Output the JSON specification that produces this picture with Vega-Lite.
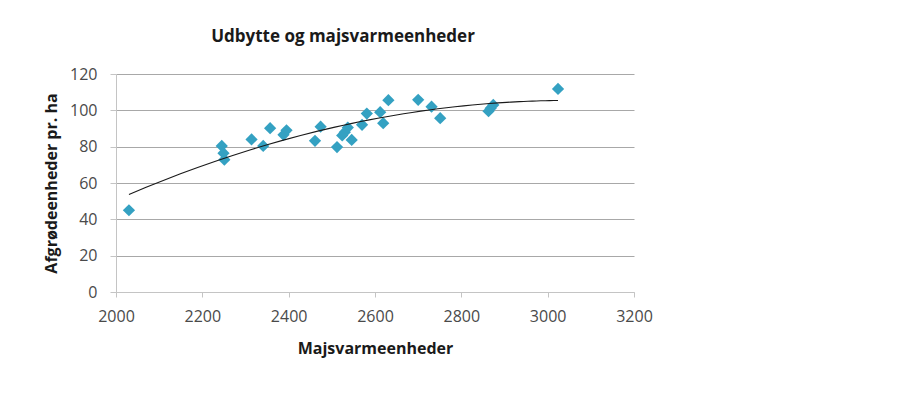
{
  "$schema": "https://vega.github.io/schema/vega-lite/v6.json",
  "width": 518,
  "height": 218,
  "autosize": {"type": "none"},
  "padding": {"left": 116, "top": 74, "right": 288, "bottom": 120},
  "background": "white",
  "title": {
    "text": "Udbytte og majsvarmeenheder",
    "anchor": "middle",
    "frame": "group",
    "dx": -32,
    "dy": 23,
    "baseline": "alphabetic",
    "offset": 30,
    "font": "Open Sans",
    "fontSize": 17,
    "fontWeight": "bold",
    "color": "#1a1a1a"
  },
  "config": {
    "view": {"stroke": null},
    "axis": {
      "labelFont": "Open Sans",
      "labelFontSize": 16,
      "labelColor": "#4a4a4a",
      "labelFlush": false,
      "titleFont": "Open Sans",
      "titleFontSize": 16,
      "titleFontWeight": "bold",
      "titleColor": "#1a1a1a",
      "domainColor": "#c4c4c4",
      "tickColor": "#c4c4c4"
    }
  },
  "data": {
    "values": [
      {"majsvarmeenheder": 2030, "afgroedeenheder": 45},
      {"majsvarmeenheder": 2245, "afgroedeenheder": 80.4},
      {"majsvarmeenheder": 2249, "afgroedeenheder": 76.4},
      {"majsvarmeenheder": 2251, "afgroedeenheder": 72.8},
      {"majsvarmeenheder": 2314, "afgroedeenheder": 84},
      {"majsvarmeenheder": 2341, "afgroedeenheder": 80.4},
      {"majsvarmeenheder": 2357, "afgroedeenheder": 90.2},
      {"majsvarmeenheder": 2388, "afgroedeenheder": 86.5},
      {"majsvarmeenheder": 2395, "afgroedeenheder": 89},
      {"majsvarmeenheder": 2461, "afgroedeenheder": 83.2},
      {"majsvarmeenheder": 2474, "afgroedeenheder": 91},
      {"majsvarmeenheder": 2512, "afgroedeenheder": 79.8},
      {"majsvarmeenheder": 2524, "afgroedeenheder": 86.2},
      {"majsvarmeenheder": 2530, "afgroedeenheder": 88},
      {"majsvarmeenheder": 2537, "afgroedeenheder": 90.5},
      {"majsvarmeenheder": 2546, "afgroedeenheder": 83.7},
      {"majsvarmeenheder": 2570, "afgroedeenheder": 92},
      {"majsvarmeenheder": 2581, "afgroedeenheder": 98.2},
      {"majsvarmeenheder": 2612, "afgroedeenheder": 99},
      {"majsvarmeenheder": 2619, "afgroedeenheder": 92.9},
      {"majsvarmeenheder": 2631, "afgroedeenheder": 105.6},
      {"majsvarmeenheder": 2700, "afgroedeenheder": 105.8},
      {"majsvarmeenheder": 2731, "afgroedeenheder": 102},
      {"majsvarmeenheder": 2751, "afgroedeenheder": 95.7},
      {"majsvarmeenheder": 2863, "afgroedeenheder": 99.5},
      {"majsvarmeenheder": 2868, "afgroedeenheder": 101.2},
      {"majsvarmeenheder": 2874, "afgroedeenheder": 103},
      {"majsvarmeenheder": 3024, "afgroedeenheder": 111.8}
    ]
  },
  "encoding": {
    "x": {
      "field": "majsvarmeenheder",
      "type": "quantitative",
      "scale": {"domain": [2000, 3200], "nice": false, "zero": false},
      "axis": {
        "title": "Majsvarmeenheder",
        "values": [2000, 2200, 2400, 2600, 2800, 3000, 3200],
        "format": "d",
        "grid": false,
        "tickSize": 5,
        "labelPadding": 11,
        "titleY": 61,
        "titleBaseline": "alphabetic",
        "titleAlign": "center"
      }
    },
    "y": {
      "field": "afgroedeenheder",
      "type": "quantitative",
      "scale": {"domain": [0, 120], "nice": false},
      "axis": {
        "title": "Afgrødeenheder pr. ha",
        "values": [0, 20, 40, 60, 80, 100, 120],
        "format": "d",
        "grid": true,
        "gridColor": {"condition": {"test": "datum.value === 0", "value": "#c4c4c4"}, "value": "#a8a8a8"},
        "tickSize": 6,
        "labelPadding": 13,
        "titleX": -65,
        "titleY": 109,
        "titleBaseline": "middle",
        "titleAlign": "center",
        "titleAngle": -90
      }
    }
  },
  "layer": [
    {
      "mark": {"type": "point", "shape": "diamond", "filled": true, "size": 150, "color": "#34A1C2", "opacity": 1}
    },
    {
      "transform": [
        {"regression": "afgroedeenheder", "on": "majsvarmeenheder", "method": "poly", "order": 2}
      ],
      "mark": {"type": "line", "color": "#1a1a1a", "strokeWidth": 1.1}
    }
  ]
}
